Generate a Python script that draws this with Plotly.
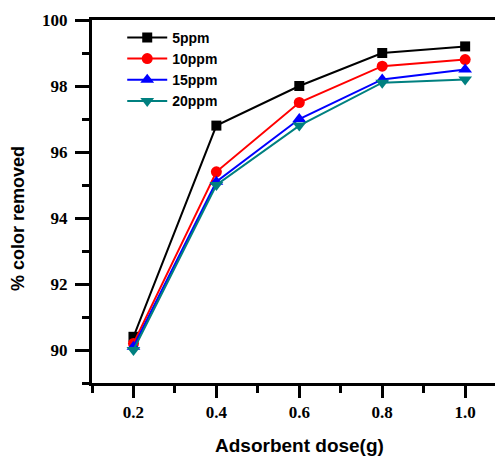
import plotly.graph_objects as go

# Adsorbent dose (g) and % colour removal for each initial dye concentration
dose = [0.2, 0.4, 0.6, 0.8, 1.0]
removal_5ppm = [90.4, 96.8, 98.0, 99.0, 99.2]
removal_10ppm = [90.2, 95.4, 97.5, 98.6, 98.8]
removal_15ppm = [90.1, 95.1, 97.0, 98.2, 98.5]
removal_20ppm = [90.0, 95.0, 96.8, 98.1, 98.2]

series_names = ["5ppm", "10ppm", "15ppm", "20ppm"]
series_values = [removal_5ppm, removal_10ppm, removal_15ppm, removal_20ppm]
series_colors = ["#000000", "#FF0000", "#0000FF", "#008080"]
series_symbols = ["square", "circle", "triangle-up", "triangle-down"]
series_sizes = [10, 11, 12, 12]

x_ticks = [0.2, 0.4, 0.6, 0.8, 1.0]
x_tick_labels = ["0.2", "0.4", "0.6", "0.8", "1.0"]
y_ticks = [90, 92, 94, 96, 98, 100]
y_tick_labels = ["90", "92", "94", "96", "98", "100"]

fig = go.Figure()
for name, vals, col, sym, sz in zip(series_names, series_values, series_colors,
                                    series_symbols, series_sizes):
    fig.add_trace(go.Scatter(
        x=dose, y=vals, name=name, mode="lines+markers",
        line=dict(color=col, width=2),
        marker=dict(symbol=sym, size=sz, color=col),
    ))

tick_font = dict(family="Liberation Serif, Times New Roman, serif", size=17,
                 color="black", weight="bold")
title_font = dict(family="Liberation Sans, Arial, sans-serif", size=18, color="black")

fig.update_layout(
    width=495, height=457,
    margin=dict(l=92, r=0, t=20, b=74),
    paper_bgcolor="white", plot_bgcolor="white",
    showlegend=True,
    legend=dict(
        x=0.075, y=0.995, xanchor="left", yanchor="top",
        bgcolor="rgba(0,0,0,0)", borderwidth=0,
        font=dict(family="Liberation Sans, Arial, sans-serif", size=14,
                  color="black", weight="bold"),
        tracegroupgap=0, itemwidth=40,
    ),
    xaxis=dict(
        range=[0.1, 1.072], showgrid=False, zeroline=False,
        showline=True, linecolor="black", linewidth=3, mirror=True,
        ticks="outside", ticklen=12, tickwidth=3, tickcolor="black",
        tickvals=x_ticks, ticktext=x_tick_labels, tickfont=tick_font,
        minor=dict(dtick=0.1, tick0=0.1, ticks="outside", ticklen=7, tickwidth=3, tickcolor="black"),
    ),
    yaxis=dict(
        range=[89, 100], showgrid=False, zeroline=False,
        showline=True, linecolor="black", linewidth=3, mirror=False,
        ticks="outside", ticklen=14, tickwidth=3, tickcolor="black",
        tickvals=y_ticks, ticktext=y_tick_labels, tickfont=tick_font,
        ticklabelstandoff=4,
        minor=dict(dtick=1, tick0=89, ticks="outside", ticklen=7, tickwidth=3, tickcolor="black"),
    ),
    annotations=[
        dict(text="<b>Adsorbent dose(g)</b>", x=0.6, xref="x", y=0, yref="paper",
             showarrow=False, font=dict(title_font, size=19),
             xanchor="center", yanchor="middle"),
        dict(text="<b>% color removed</b>", x=0, xref="paper", y=0, yref="paper",
             showarrow=False, font=title_font, textangle=-90,
             xanchor="center", yanchor="middle"),
    ],
)

# place the axis titles in pixel terms relative to the plotting area
plot_w = 495 - 92
plot_h = 457 - 20 - 74
fig.layout.annotations[0].update(y=-(445 - (457 - 74)) / plot_h)
fig.layout.annotations[1].update(x=-(92 - 18) / plot_w, y=(457 - 74 - 219) / plot_h)

fig.write_html("out.html")
